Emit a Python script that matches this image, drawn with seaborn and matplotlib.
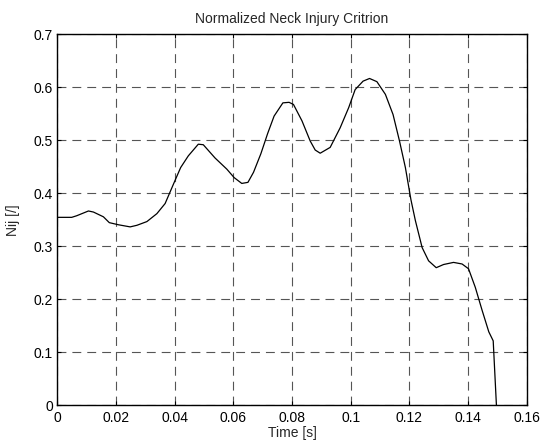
import matplotlib
matplotlib.use("Agg")
import matplotlib.pyplot as plt
import seaborn as sns
import pandas as pd

time_s = [0.0, 0.005, 0.0067, 0.0107, 0.0124, 0.0158, 0.0178, 0.0209, 0.0249, 0.0272,
          0.0306, 0.034, 0.0368, 0.0399, 0.0421, 0.0447, 0.0481, 0.0498, 0.0538, 0.0578,
          0.0603, 0.0629, 0.065, 0.0669, 0.0694, 0.0717, 0.0739, 0.0769, 0.0790, 0.0805,
          0.0834, 0.0862, 0.0879, 0.0896, 0.093, 0.0964, 0.0993, 0.1015, 0.1042, 0.1064,
          0.1089, 0.1118, 0.1144, 0.1166, 0.1186, 0.1205, 0.122, 0.1243, 0.1265, 0.1291,
          0.1316, 0.135, 0.1379, 0.1401, 0.1424, 0.1447, 0.147, 0.1485, 0.1496]
nij = [0.355, 0.355, 0.358, 0.367, 0.365, 0.356, 0.345, 0.341, 0.337, 0.340,
       0.347, 0.362, 0.381, 0.421, 0.449, 0.471, 0.493, 0.492, 0.467, 0.446,
       0.430, 0.419, 0.421, 0.440, 0.475, 0.513, 0.546, 0.571, 0.572, 0.568,
       0.537, 0.499, 0.482, 0.476, 0.487, 0.524, 0.562, 0.596, 0.612, 0.617,
       0.611, 0.587, 0.549, 0.499, 0.449, 0.388, 0.349, 0.298, 0.273, 0.260,
       0.266, 0.270, 0.267, 0.258, 0.223, 0.180, 0.139, 0.122, 0.0]

x_ticks = [0, 0.02, 0.04, 0.06, 0.08, 0.1, 0.12, 0.14, 0.16]
x_tick_labels = ["0", "0.02", "0.04", "0.06", "0.08", "0.1", "0.12", "0.14", "0.16"]
y_ticks = [0, 0.1, 0.2, 0.3, 0.4, 0.5, 0.6, 0.7]
y_tick_labels = ["0", "0.1", "0.2", "0.3", "0.4", "0.5", "0.6", "0.7"]

sns.set_style("white")
plt.rcParams['font.family'] = ['Liberation Sans', 'DejaVu Sans']
plt.rcParams['font.size'] = 10

df = pd.DataFrame({"Time [s]": time_s, "Nij [/]": nij})

fig = plt.figure(figsize=(5.43, 4.41), dpi=100)
ax = fig.add_axes([0.105, 0.0805, 0.8655, 0.8413])
sns.lineplot(data=df, x="Time [s]", y="Nij [/]", ax=ax, color="black", linewidth=0.9)

ax.set_xlim(0, 0.16)
ax.set_ylim(0, 0.7)
ax.set_xticks(x_ticks)
ax.set_xticklabels(x_tick_labels)
ax.set_yticks(y_ticks)
ax.set_yticklabels(y_tick_labels)
ax.grid(True, linestyle=(0, (8, 5.4)), color="#555555", linewidth=0.8)
ax.set_axisbelow(True)
for s in ax.spines.values():
    s.set_color("black")
    s.set_linewidth(1.0)
ax.tick_params(direction="in", length=3, width=0.8, colors="black", labelsize=10,
               top=True, right=True, bottom=True, left=True)
ax.tick_params(axis="x", pad=4)
ax.tick_params(axis="y", pad=3)
ax.set_title("Normalized Neck Injury Critrion", fontsize=10, pad=8)
ax.set_xlabel("Time [s]", fontsize=10, labelpad=1)
ax.set_ylabel("Nij [/]", fontsize=10, labelpad=10)

fig.savefig("out.png", dpi=100)
